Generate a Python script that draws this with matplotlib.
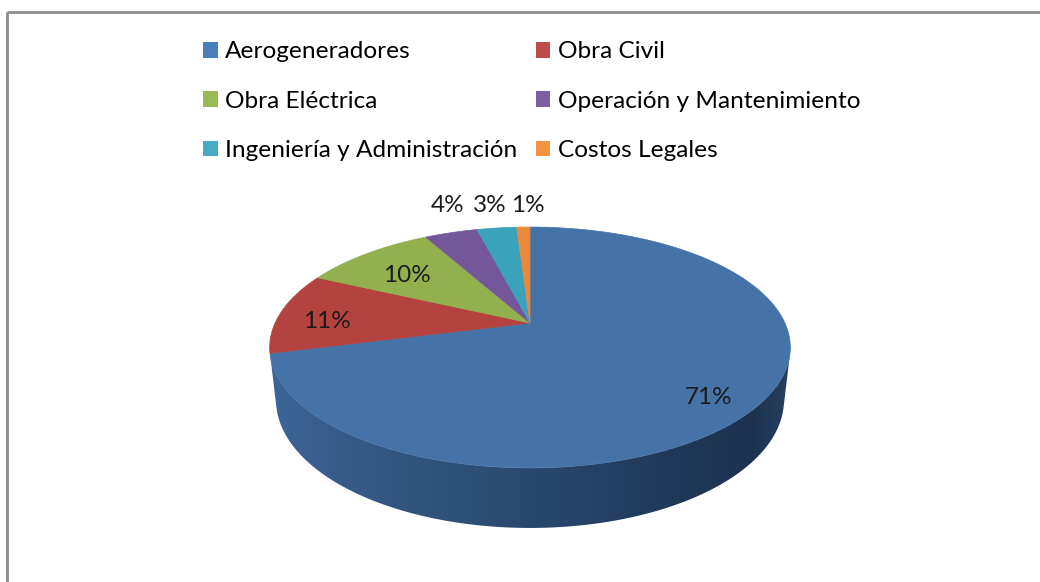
import matplotlib.pyplot as plt
import numpy as np
from matplotlib.patches import Polygon, Patch, Rectangle
from matplotlib.colors import LinearSegmentedColormap

categorias = ['Aerogeneradores', 'Obra Civil', 'Obra Eléctrica',
              'Operación y Mantenimiento', 'Ingeniería y Administración',
              'Costos Legales']
porcentajes = [71, 11, 10, 4, 3, 1]
etiquetas = ['71%', '11%', '10%', '4%', '3%', '1%']

colores_leyenda = ['#4a7ebb', '#be4b48', '#98b954', '#7d60a0', '#46aac5', '#f69240']
colores_cara = ['#4573a8', '#b4423f', '#93b04f', '#74569a', '#3ba2bc', '#ec883a']

plt.rcParams['font.family'] = ['Lato', 'DejaVu Sans']

fig = plt.figure(figsize=(10.4, 5.82), dpi=100)
ax = fig.add_axes([0, 0, 1, 1])
ax.set_xlim(0, 1040)
ax.set_ylim(582, 0)
ax.axis('off')

# camera for the tilted disc (perspective projection)
cx, cy = 530, 323
foco, dist = 1119.0, 4.39
s_a, c_a = 0.453, 0.892
alto = 0.232


def proyectar(theta, y3):
    # theta measured clockwise from 12 o'clock
    X = np.sin(theta)
    Z = np.cos(theta)
    v = Z * s_a + y3 * c_a
    w = dist + Z * c_a - y3 * s_a
    return cx + foco * X / w, cy - foco * v / w


fracciones = np.array(porcentajes, dtype=float) / sum(porcentajes)
bordes = np.concatenate([[0], np.cumsum(fracciones)]) * 2 * np.pi

# outer wall: only the part facing the camera
lim = np.arccos(-1 / (dist * c_a))
cmap_lado = LinearSegmentedColormap.from_list(
    'lado', [(0, '#3d6699'), (0.12, '#365c8a'), (0.35, '#2f5179'),
             (0.55, '#28456b'), (0.75, '#213a5a'), (0.93, '#1d324f'),
             (1, '#25405f')])
grad = np.linspace(0, 1, 256).reshape(1, -1)
for i in range(len(porcentajes)):
    a0 = max(bordes[i], lim)
    a1 = min(bordes[i + 1], 2 * np.pi - lim)
    if a1 <= a0:
        continue
    t = np.linspace(a0, a1, 200)
    xs, ys = proyectar(t, 0)
    xb, yb = proyectar(t[::-1], -alto)
    pts = np.column_stack([np.concatenate([xs, xb]), np.concatenate([ys, yb])])
    poly = Polygon(pts, closed=True, facecolor='none', edgecolor='none')
    ax.add_patch(poly)
    x_min, x_max = pts[:, 0].min(), pts[:, 0].max()
    im = ax.imshow(grad, cmap=cmap_lado, aspect='auto', interpolation='bilinear',
                   extent=(x_min, x_max, pts[:, 1].max(), pts[:, 1].min()),
                   zorder=1)
    im.set_clip_path(poly)

# top face wedges
for i in range(len(porcentajes)):
    t = np.linspace(bordes[i], bordes[i + 1], 200)
    xs, ys = proyectar(t, 0)
    pts = np.column_stack([np.concatenate([[cx], xs]), np.concatenate([[cy], ys])])
    ax.add_patch(Polygon(pts, closed=True, facecolor=colores_cara[i],
                         edgecolor=colores_cara[i], linewidth=0.5, zorder=2))

# data labels
pos_etiquetas = [(709, 397), (327, 322), (407, 275), (448, 205), (490, 205), (528, 205)]
for (x, y), txt in zip(pos_etiquetas, etiquetas):
    ax.text(x, y, txt, ha='center', va='center', fontsize=17.5,
            color='#1b1b1b', zorder=3)

# legend in two columns, filled row by row
orden = [0, 2, 4, 1, 3, 5]
handles = [Patch(facecolor=colores_leyenda[i], edgecolor='none') for i in orden]
labels = [categorias[i] for i in orden]
ax.legend(handles, labels, ncol=2, loc='upper left',
          bbox_to_anchor=(203 / 1040, 1 - 41.5 / 582), frameon=False,
          fontsize=17.6, handlelength=0.6, handleheight=0.6, handletextpad=0.3,
          labelspacing=1.16, columnspacing=0.75, borderpad=0, borderaxespad=0)

# chart area border
ax.add_patch(Rectangle((7, 12), 1100, 700, facecolor='none',
                       edgecolor='#8c8c8c', linewidth=2, zorder=4))

fig.savefig('out.png', dpi=100, facecolor='white')
